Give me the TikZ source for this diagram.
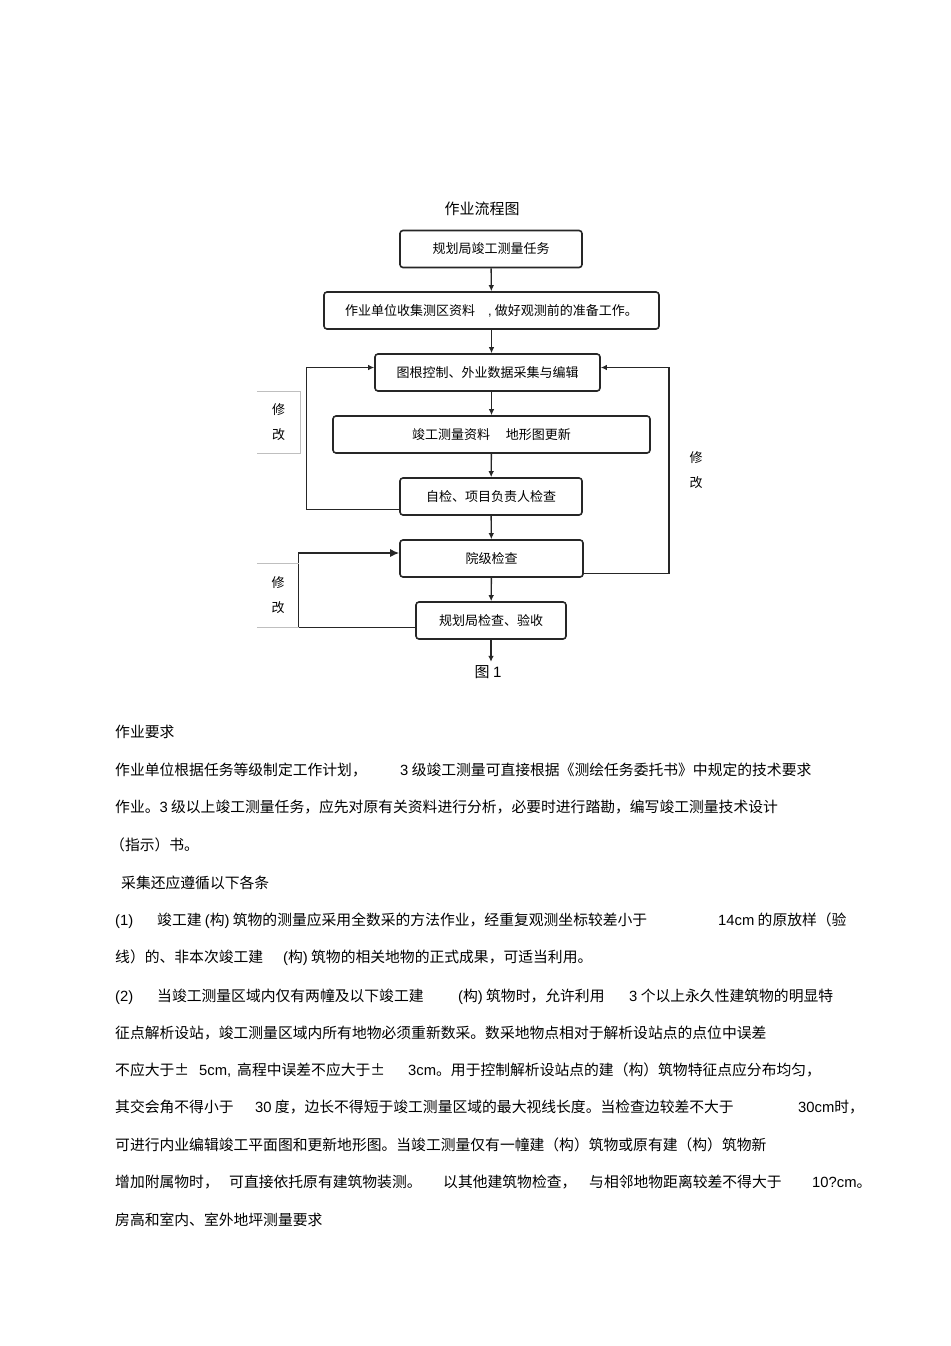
\documentclass[tikz,border=0pt]{standalone}
\usepackage{fontspec}
\setmainfont{Noto Sans CJK SC}
\newfontfamily\latfont{Liberation Sans}
\usetikzlibrary{arrows.meta, calc}
\newcommand{\latn}[1]{{\latfont #1}}
\tikzset{
  stepbox/.style={draw=black!85, line width=1.6pt, rounded corners=3pt, minimum height=37pt, inner sep=0pt, font=\fontsize{13}{15}\selectfont},
  flow/.style={draw=black!85, line width=1.4pt, -{Latex[length=6pt,width=5.5pt]}},
  fixnote/.style={align=center, inner sep=0pt, font=\fontsize{13}{15}\selectfont},
  fixline/.style={draw=black!25, line width=0.9pt},
  txtline/.style={anchor=base west, inner sep=0pt, font=\fontsize{14.8}{17}\selectfont}
}
\begin{document}
\begin{tikzpicture}[x=1pt, y=-1pt]
    \useasboundingbox (0,0) rectangle (950,1346);

    % flow chart
    \node[font=\fontsize{15}{17}\selectfont] (title) at (482,209) {作业流程图};
    \node[stepbox, minimum width=182pt] (task) at (491,249) {规划局竣工测量任务};
    \node[stepbox, minimum width=335pt] (prep) at (491.5,310.5) {作业单位收集测区资料\quad\latn{,} 做好观测前的准备工作。};
    \node[stepbox, minimum width=225pt] (map) at (487.5,372.5) {图根控制、外业数据采集与编辑};
    \node[stepbox, minimum width=317pt] (upd) at (491.5,434.5) {竣工测量资料\hspace{16pt}地形图更新};
    \node[stepbox, minimum width=182pt] (chk) at (491,496.5) {自检、项目负责人检查};
    \node[stepbox, minimum width=183pt] (inst) at (491.5,558.5) {院级检查};
    \node[stepbox, minimum width=150pt] (acc) at (491,620.5) {规划局检查、验收};
    \node[font=\fontsize{15}{17}\selectfont] (fig) at (488,672) {图 \latn{1}};

    \draw[flow] (task) -- (prep);
    \draw[flow] (prep.south) -- (prep.south |- map.north);
    \draw[flow] (map.south -| upd) -- (upd);
    \draw[flow] (upd) -- (chk);
    \draw[flow] (chk) -- (inst);
    \draw[flow] (inst) -- (acc);
    \draw[flow] (acc.south) -- (acc.south |- fig.north);

    % loops back
    \draw[flow] ([yshift=-13pt]chk.west) -- ++(-93,0) |- ([yshift=5pt]map.west);
    \draw[flow] ([yshift=-15pt]inst.east) -- ++(85,0) |- ([yshift=5pt]map.east);
    \draw[flow, -{Latex[length=9pt,width=8pt]}] ([yshift=-7pt]acc.west) -- ++(-117,0) |- ([yshift=5.5pt]inst.west);

    \node[fixnote, minimum width=43pt, minimum height=61pt] (fixa) at (278.5,422.5) {修\\[10pt]改};
    \draw[fixline] (fixa.north west) -- (fixa.north east) -- (fixa.south east) -- (fixa.south west);
    \node[fixnote, minimum width=42pt, minimum height=63pt] (fixb) at (278,595.5) {修\\[10pt]改};
    \draw[fixline] (fixb.north west) -- (fixb.north east);
    \draw[fixline] (fixb.south west) -- (fixb.south east);
    \node[fixnote] (fixc) at (696,470) {修\\[10pt]改};

    % text below
    \node[txtline] (req) at (115,737) {作业要求};
    \node[txtline] (plana) at (115,775) {作业单位根据任务等级制定工作计划，};
    \node[txtline] (planb) at (400,775) {\latn{3} 级竣工测量可直接根据《测绘任务委托书》中规定的技术要求};
    \node[txtline] (planc) at (115,812) {作业。\latn{3} 级以上竣工测量任务，应先对原有关资料进行分析，必要时进行踏勘，编写竣工测量技术设计};
    \node[txtline] (pland) at (110,850) {（指示）书。};
    \node[txtline] (rules) at (121,888) {采集还应遵循以下各条};
    \node[txtline] (ra) at (115,925) {\latn{(1)}};
    \node[txtline] (rb) at (157,925) {竣工建 \latn{(}构\latn{)} 筑物的测量应采用全数采的方法作业，经重复观测坐标较差小于};
    \node[txtline] (rc) at (718,925) {\latn{14cm} 的原放样（验};
    \node[txtline] (rd) at (115,962) {线）的、非本次竣工建};
    \node[txtline] (re) at (283,962) {\latn{(}构\latn{)} 筑物的相关地物的正式成果，可适当利用。};
    \node[txtline] (sa) at (115,1001) {\latn{(2)}};
    \node[txtline] (sb) at (157,1001) {当竣工测量区域内仅有两幢及以下竣工建};
    \node[txtline] (sc) at (458,1001) {\latn{(}构\latn{)} 筑物时，允许利用};
    \node[txtline] (sd) at (629,1001) {\latn{3} 个以上永久性建筑物的明显特};
    \node[txtline] (se) at (115,1038) {征点解析设站，竣工测量区域内所有地物必须重新数采。数采地物点相对于解析设站点的点位中误差};
    \node[txtline] (sf) at (115,1075) {不应大于±};
    \node[txtline] (sg) at (199,1075) {\latn{5cm,}};
    \node[txtline] (sh) at (237,1075) {高程中误差不应大于±};
    \node[txtline] (si) at (408,1075) {\latn{3cm}。用于控制解析设站点的建（构）筑物特征点应分布均匀，};
    \node[txtline] (sj) at (115,1112) {其交会角不得小于};
    \node[txtline] (sk) at (255,1112) {\latn{30} 度，边长不得短于竣工测量区域的最大视线长度。当检查边较差不大于};
    \node[txtline] (sl) at (798,1112) {\latn{30cm}时，};
    \node[txtline] (sm) at (115,1150) {可进行内业编辑竣工平面图和更新地形图。当竣工测量仅有一幢建（构）筑物或原有建（构）筑物新};
    \node[txtline] (sn) at (115,1187) {增加附属物时，};
    \node[txtline] (so) at (229,1187) {可直接依托原有建筑物装测。};
    \node[txtline] (sp) at (443,1187) {以其他建筑物检查，};
    \node[txtline] (sq) at (589,1187) {与相邻地物距离较差不得大于};
    \node[txtline] (sr) at (812,1187) {\latn{10?cm}。};
    \node[txtline] (hgt) at (115,1225) {房高和室内、室外地坪测量要求};

\end{tikzpicture}
\end{document}
